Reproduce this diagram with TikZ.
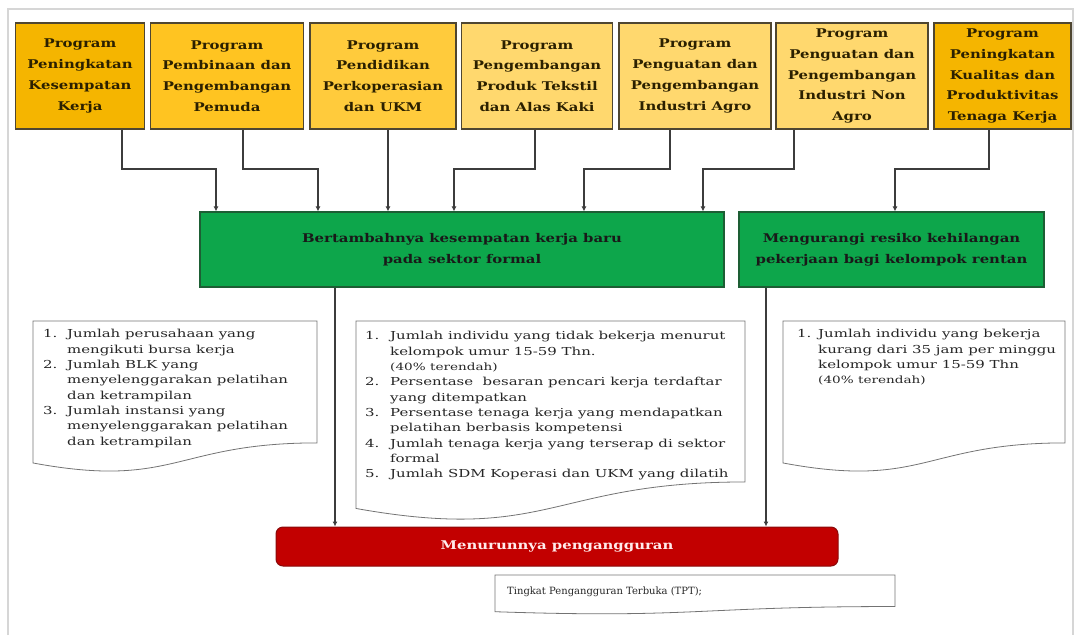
\documentclass[tikz,border=0pt]{standalone}
\usepackage{fontspec}
\setmainfont{DejaVu Serif}
\newfontfamily\boxfont[FakeStretch=1.24]{DejaVu Serif}
\newfontfamily\notefont[FakeStretch=1.36]{DejaVu Serif}
\usetikzlibrary{arrows.meta,calc}

\definecolor{gold}{HTML}{F5B500}
\definecolor{goldmid}{HTML}{FFC421}
\definecolor{goldpale}{HTML}{FFCB3C}
\definecolor{goldlight}{HTML}{FFD86E}
\definecolor{boxedge}{HTML}{4F4631}
\definecolor{inkbrown}{HTML}{2B2000}
\definecolor{leafgreen}{HTML}{0DA64B}
\definecolor{leafedge}{HTML}{1D5E34}
\definecolor{alarmred}{HTML}{C20000}
\definecolor{alarmedge}{HTML}{8A0A0A}
\definecolor{linegray}{HTML}{3C3C3C}
\definecolor{framegray}{HTML}{D6D6D6}

\newcommand\docoutline[1]{%
  \draw[draw=black!55,line width=0.8pt] (#1.north west) -- (#1.north east)
    -- ($(#1.north east)!0.802!(#1.south east)$)
    .. controls ($(#1.north)!0.802!(#1.south)$) and ($(#1.north)!1.107!(#1.south)$)
    .. ($(#1.north west)!0.934!(#1.south west)$) -- cycle;}

\begin{document}
\begin{tikzpicture}[x=1pt,y=-1pt,
    arr/.style={draw=linegray,line width=1.1pt,-{Latex[length=5pt,width=5pt]}},
    notetext/.style={anchor=north west,inner sep=0pt,text=black!85,
      font=\notefont\fontsize{11}{15.3}\selectfont}]

        \useasboundingbox (0,0) rectangle (1077,635);
        \draw[framegray,line width=1.2pt] (8,635) -- (8,9) -- (1073,9) -- (1073,635);

        \begin{scope}[every node/.style={draw=boxedge,line width=1.1pt,
            minimum height=106pt,inner sep=2pt,align=center,text=inkbrown,
            font=\boxfont\bfseries\fontsize{12}{20.7}\selectfont}]
          \node[fill=gold,minimum width=129pt]      (p1) at (80,76)    {Program\\Peningkatan\\Kesempatan\\Kerja};
          \node[fill=goldmid,minimum width=153pt]   (p2) at (227,76)   {Program\\Pembinaan dan\\Pengembangan\\Pemuda};
          \node[fill=goldpale,minimum width=146pt]  (p3) at (383,76)   {Program\\Pendidikan\\Perkoperasian\\dan UKM};
          \node[fill=goldlight,minimum width=151pt] (p4) at (537,76)   {Program\\Pengembangan\\Produk Tekstil\\dan Alas Kaki};
          \node[fill=goldlight,minimum width=152pt] (p5) at (695,76)   {Program\\Penguatan dan\\Pengembangan\\Industri Agro};
          \node[fill=goldlight,minimum width=152pt] (p6) at (852,76)   {Program\\Penguatan dan\\Pengembangan\\Industri Non\\Agro};
          \node[fill=gold,minimum width=137pt]      (p7) at (1002.5,76) {Program\\Peningkatan\\Kualitas dan\\Produktivitas\\Tenaga Kerja};
        \end{scope}

        \begin{scope}[every node/.style={draw=leafedge,fill=leafgreen,line width=1.1pt,
            minimum height=75pt,align=center,text=black!90,
            font=\boxfont\bfseries\fontsize{12}{20.6}\selectfont}]
          \node[minimum width=524pt] (g1) at (462,249.5)   {Bertambahnya kesempatan kerja baru\\pada sektor formal};
          \node[minimum width=305pt] (g2) at (891.5,249.5) {Mengurangi resiko kehilangan\\pekerjaan bagi kelompok rentan};
        \end{scope}

        \node[draw=alarmedge,fill=alarmred,line width=1pt,rounded corners=7pt,
          minimum width=562pt,minimum height=39pt,text=red!8,
          font=\boxfont\bfseries\fontsize{12}{14}\selectfont] (red) at (557,546.5) {Menurunnya pengangguran};

        \begin{scope}[every node/.style={inner sep=0pt,outer sep=0pt}]
          \node[minimum width=284pt,minimum height=152pt]   (n1) at (175,397)     {};
          \node[minimum width=389pt,minimum height=200.7pt] (n2) at (550.5,421.35) {};
          \node[minimum width=282pt,minimum height=152pt]   (n3) at (924,397)     {};
          \node[minimum width=400pt,minimum height=39.3pt]  (tpt) at (695,594.65) {};
        \end{scope}
        \docoutline{n1}
        \docoutline{n2}
        \docoutline{n3}
        \docoutline{tpt}

        \node[notetext] (t1) at (43,327) {\begin{tabular}{@{}p{24pt}@{}l@{}}
          1. & Jumlah perusahaan yang\\
             & mengikuti bursa kerja\\
          2. & Jumlah BLK yang\\
             & menyelenggarakan pelatihan\\
             & dan ketrampilan\\
          3. & Jumlah instansi yang\\
             & menyelenggarakan pelatihan\\
             & dan ketrampilan
        \end{tabular}};
        \node[notetext] (t2) at (365,329) {\begin{tabular}{@{}p{25pt}@{}l@{}}
          1. & Jumlah individu yang tidak bekerja menurut\\
             & kelompok umur 15-59 Thn.\\
             & {\fontsize{10}{15.3}\selectfont (40\% terendah)}\\
          2. & Persentase\ \ besaran pencari kerja terdaftar\\
             & yang ditempatkan\\
          3. & Persentase tenaga kerja yang mendapatkan\\
             & pelatihan berbasis kompetensi\\
          4. & Jumlah tenaga kerja yang terserap di sektor\\
             & formal\\
          5. & Jumlah SDM Koperasi dan UKM yang dilatih
        \end{tabular}};
        \node[notetext] (t3) at (797,327) {\begin{tabular}{@{}p{21pt}@{}l@{}}
          1. & Jumlah individu yang bekerja\\
             & kurang dari 35 jam per minggu\\
             & kelompok umur 15-59 Thn\\
             & {\fontsize{10}{15.3}\selectfont (40\% terendah)}
        \end{tabular}};
        \node[anchor=west,inner sep=0pt,text=black!85,font=\fontsize{10}{12}\selectfont]
          (t4) at (507,592) {Tingkat Pengangguran Terbuka (TPT);};

        \draw[arr] (p1.south -| 122,0) |- (216,169) -- (g1.north -| 216,0);
        \draw[arr] (p2.south -| 243,0) |- (318,169) -- (g1.north -| 318,0);
        \draw[arr] (p3.south -| 388,0) -- (g1.north -| 388,0);
        \draw[arr] (p4.south -| 535,0) |- (454,169) -- (g1.north -| 454,0);
        \draw[arr] (p5.south -| 670,0) |- (584,169) -- (g1.north -| 584,0);
        \draw[arr] (p6.south -| 794,0) |- (703,169) -- (g1.north -| 703,0);
        \draw[arr] (p7.south -| 989,0) |- (895,169) -- (g2.north -| 895,0);
        \draw[arr] (g1.south -| 335,0) -- (red.north -| 335,0);
        \draw[arr] (g2.south -| 766,0) -- (red.north -| 766,0);

      \end{tikzpicture}
\end{document}
